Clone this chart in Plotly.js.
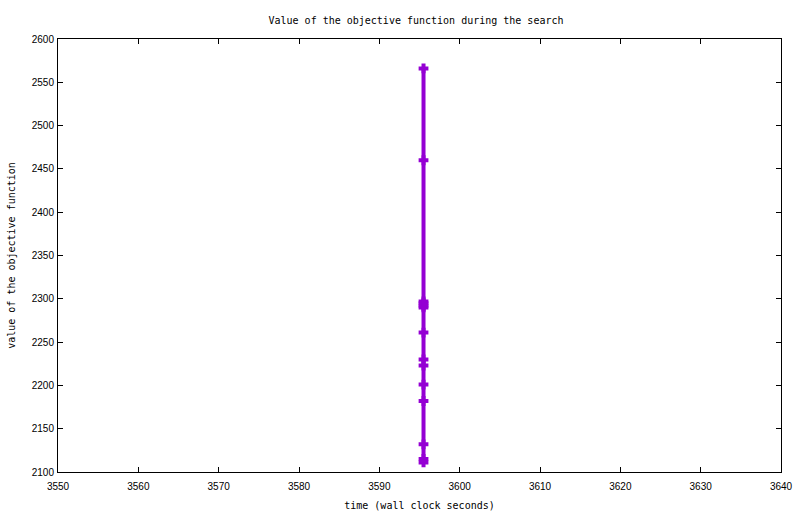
<!DOCTYPE html>
<html><head><meta charset="utf-8">
<script src="https://cdn.plot.ly/plotly-3.0.1.min.js"></script>
<style>html,body{margin:0;padding:0;background:#fff}#chart{width:800px;height:514px}</style>
</head><body><div id="chart"></div>
<script>
const timeSeconds = [3595.5, 3595.5, 3595.5, 3595.5, 3595.5, 3595.5, 3595.5, 3595.5, 3595.5, 3595.5, 3595.5, 3595.5, 3595.5, 3595.5];
const objectiveValues = [2566, 2460, 2297, 2295, 2292, 2290, 2261, 2230, 2223, 2201, 2182, 2132, 2115, 2111];
const xTicks = [3550, 3560, 3570, 3580, 3590, 3600, 3610, 3620, 3630, 3640];
const yTicks = [2100, 2150, 2200, 2250, 2300, 2350, 2400, 2450, 2500, 2550, 2600];

const mono = 'DejaVu Sans Mono, monospace';
const axisCommon = {
  showgrid: false, zeroline: false, showline: true, linecolor: '#000', linewidth: 1,
  mirror: 'ticks', ticks: 'inside', ticklen: 5, tickwidth: 1, tickcolor: '#000',
  tickfont: {family: 'Liberation Sans, Arial, sans-serif', size: 10, color: '#000'}
};
Plotly.newPlot('chart', [{
  x: timeSeconds, y: objectiveValues, type: 'scatter', mode: 'lines+markers',
  line: {color: '#9400D3', width: 4},
  marker: {symbol: 'cross-thin', size: 7, color: '#9400D3', line: {color: '#9400D3', width: 4}},
  showlegend: false
}], {
  width: 800, height: 514,
  margin: {l: 58, r: 19, t: 39, b: 42},
  paper_bgcolor: '#fff', plot_bgcolor: '#fff',
  title: {text: 'Value of the objective function during the search', font: {family: mono, size: 10, color: '#000'}, x: 0.52, xanchor: 'center', y: 0.96, yanchor: 'middle'},
  xaxis: Object.assign({}, axisCommon, {range: [3550, 3640], tickvals: xTicks, ticktext: xTicks.map(String),
    ticklabelstandoff: 5,
    title: {text: 'time (wall clock seconds)', font: {family: mono, size: 10, color: '#000'}, standoff: 10}}),
  yaxis: Object.assign({}, axisCommon, {range: [2100, 2600], tickvals: yTicks, ticktext: yTicks.map(String),
    ticklabelstandoff: 1,
    title: {text: 'value of the objective function', font: {family: mono, size: 10, color: '#000'}, standoff: 14}})
}, {staticPlot: true});
</script></body></html>
